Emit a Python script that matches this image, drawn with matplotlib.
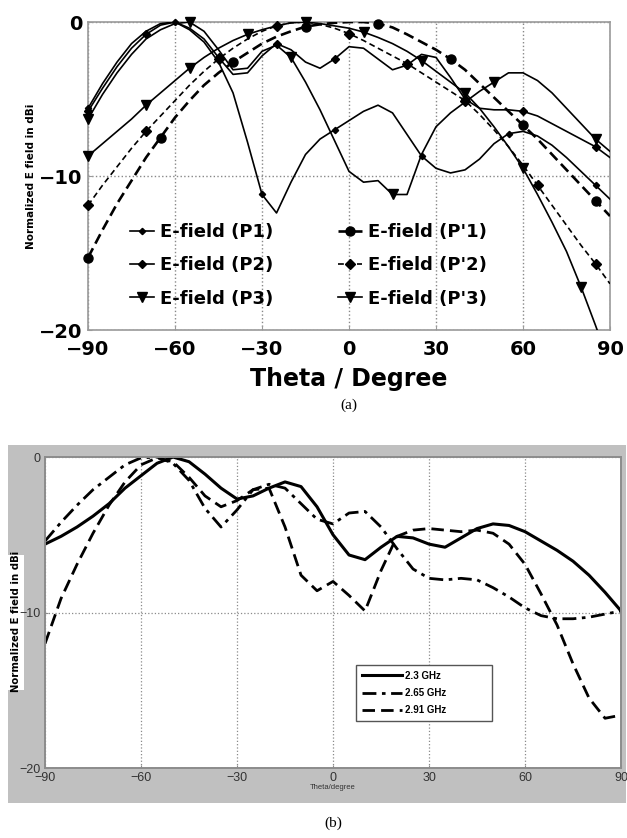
import matplotlib
matplotlib.use("Agg")
import matplotlib.pyplot as plt
from matplotlib.lines import Line2D
from matplotlib.patches import Rectangle

# ---------------- data ----------------
theta_deg = [-90, -85, -80, -75, -70, -65, -60, -55, -50, -45, -40, -35, -30,
             -25, -20, -15, -10, -5, 0, 5, 10, 15, 20, 25, 30, 35, 40, 45,
             50, 55, 60, 65, 70, 75, 80, 85, 90]

# (a) normalized E-field, dBi
p1 = [-5.6, -4.0, -2.6, -1.4, -0.6, -0.1, 0.0, -0.5, -1.3, -2.6, -4.6, -7.8, -11.2,
      -12.4, -10.4, -8.6, -7.6, -7.0, -6.4, -5.8, -5.4, -5.9, -7.3, -8.7, -9.5, -9.8,
      -9.6, -8.9, -7.9, -7.25, -7.1, -7.4, -8.0, -8.8, -9.7, -10.6, -11.5]
p2 = [-5.8, -4.3, -2.9, -1.7, -0.8, -0.2, 0.0, -0.4, -1.1, -2.3, -3.4, -3.3, -2.2,
      -1.4, -1.8, -2.6, -3.0, -2.4, -1.6, -1.7, -2.4, -3.1, -2.8, -2.1, -2.3, -3.6,
      -5.0, -5.6, -5.7, -5.7, -5.8, -6.1, -6.6, -7.1, -7.6, -8.1, -8.8]
p3 = [-6.3, -4.7, -3.3, -2.1, -1.1, -0.5, -0.1, 0.0, -0.6, -1.8, -3.1, -3.0, -1.9,
      -1.5, -2.3, -3.9, -5.7, -7.7, -9.7, -10.4, -10.3, -11.2, -11.2, -8.6, -6.8, -5.9,
      -5.2, -4.5, -3.9, -3.3, -3.3, -3.8, -4.6, -5.6, -6.6, -7.6, -8.4]
pp1 = [-15.3, -13.5, -11.8, -10.3, -8.8, -7.5, -6.2, -5.1, -4.1, -3.3, -2.6, -2.0, -1.4,
       -0.95, -0.6, -0.3, -0.15, -0.05, 0.0, 0.0, -0.1, -0.35, -0.8, -1.3, -1.8, -2.4,
       -3.1, -4.0, -4.9, -5.8, -6.7, -7.6, -8.6, -9.6, -10.6, -11.6, -12.6]
pp2 = [-11.9, -10.6, -9.4, -8.2, -7.1, -6.1, -5.1, -4.1, -3.2, -2.4, -1.7, -1.1, -0.6,
       -0.25, -0.05, 0.0, -0.15, -0.4, -0.75, -1.2, -1.7, -2.2, -2.7, -3.3, -3.9, -4.5,
       -5.1, -6.0, -7.0, -8.1, -9.3, -10.6, -11.9, -13.2, -14.5, -15.7, -17.0]
pp3 = [-8.7, -7.9, -7.1, -6.3, -5.4, -4.6, -3.8, -3.0, -2.3, -1.7, -1.2, -0.8, -0.5,
       -0.25, -0.05, 0.0, -0.1, -0.25, -0.4, -0.65, -1.0, -1.4, -1.9, -2.5, -3.2, -3.9,
       -4.6, -5.6, -6.8, -8.1, -9.5, -11.2, -13.0, -14.9, -17.2, -19.7, -22.3]
labels_a = ["E-field (P1)", "E-field (P2)", "E-field (P3)",
            "E-field (P'1)", "E-field (P'2)", "E-field (P'3)"]

# (b) normalized E-field, dBi
f_labels = ["2.3 GHz", "2.65 GHz", "2.91 GHz"]
e_230 = [-5.6, -5.1, -4.5, -3.8, -3.0, -2.0, -1.2, -0.4, 0.0, -0.3, -1.1, -2.0, -2.7,
         -2.5, -2.0, -1.6, -1.9, -3.2, -5.0, -6.3, -6.6, -5.8, -5.1, -5.2, -5.6, -5.8,
         -5.2, -4.6, -4.3, -4.4, -4.8, -5.4, -6.0, -6.7, -7.6, -8.7, -9.9]
e_265 = [-5.4, -4.2, -3.1, -2.1, -1.3, -0.5, -0.05, 0.0, -0.4, -1.5, -3.3, -4.5, -3.4,
         -2.1, -1.75, -2.0, -3.0, -4.0, -4.3, -3.6, -3.5, -4.5, -5.9, -7.2, -7.8, -7.9,
         -7.8, -7.9, -8.4, -9.0, -9.7, -10.2, -10.4, -10.4, -10.3, -10.1, -9.9]
e_291 = [-12.0, -9.1, -6.9, -4.9, -3.1, -1.6, -0.5, -0.05, -0.3, -1.3, -2.5, -3.2, -2.8,
         -2.1, -2.0, -4.5, -7.6, -8.6, -8.0, -8.9, -9.9, -7.3, -5.1, -4.7, -4.6, -4.7,
         -4.8, -4.7, -4.9, -5.6, -6.9, -8.8, -10.8, -13.3, -15.5, -16.8, -16.6]

x_ticks = [-90, -60, -30, 0, 30, 60, 90]

# ---------------- figure ----------------
fig = plt.figure(figsize=(6.27, 8.38), dpi=100)
bold = "DejaVu Sans"

# ===== (a) =====
ax1 = fig.add_axes([0.1404, 0.6062, 0.8325, 0.3675])
styles = [
    dict(data=p1, ls="-", lw=1.2, marker="D", ms=3.2, every=[0, 6, 12, 17, 23, 29, 35]),
    dict(data=p2, ls="-", lw=1.2, marker="D", ms=4.5, every=[0, 4, 9, 13, 17, 22, 26, 30, 35]),
    dict(data=p3, ls="-", lw=1.2, marker="v", ms=7.5, every=[0, 7, 14, 21, 28, 35]),
    dict(data=pp1, ls=(0, (4, 2)), lw=1.9, marker="o", ms=6.5, every=[0, 5, 10, 15, 20, 25, 30, 35]),
    dict(data=pp2, ls=(0, (3.5, 2.2)), lw=1.2, marker="D", ms=5, every=[0, 4, 9, 13, 18, 22, 26, 31, 35]),
    dict(data=pp3, ls="-", lw=1.2, marker="v", ms=7.5, every=[0, 4, 7, 11, 15, 19, 23, 26, 30, 34]),
]
handles = []
for st, lab in zip(styles, labels_a):
    ax1.plot(theta_deg, st["data"], color="black", ls=st["ls"], lw=st["lw"], zorder=3)
    ax1.plot(theta_deg, st["data"], color="black", ls="none", marker=st["marker"],
             ms=st["ms"], markevery=st["every"], clip_on=False, zorder=4)
    handles.append(Line2D([], [], color="black", ls=st["ls"], lw=st["lw"],
                          marker=st["marker"], ms=st["ms"]))

ax1.set_xlim(-90, 90)
ax1.set_ylim(-20, 0)
ax1.set_xticks(x_ticks)
ax1.set_yticks([-20, -10, 0])
ax1.grid(True, ls=":", color="#888888", lw=1.0)
for sp in ax1.spines.values():
    sp.set_color("#9a9a9a")
    sp.set_linewidth(1.2)
ax1.tick_params(axis="both", length=3, color="#9a9a9a", direction="in", labelsize=14)
ax1.tick_params(axis="x", pad=7)
ax1.tick_params(axis="y", pad=4)
for t in ax1.get_xticklabels() + ax1.get_yticklabels():
    t.set_fontweight("bold")
    t.set_family(bold)
ax1.set_xlabel("Theta / Degree", fontsize=17, fontweight="bold", family=bold)
ax1.xaxis.set_label_coords(0.5, -0.12)
ax1.set_ylabel("Normalized E field in dBi", fontsize=7.5, fontweight="bold", family=bold)
ax1.yaxis.set_label_coords(-0.10, 0.5)

leg1 = ax1.legend(handles, labels_a, loc="upper left", bbox_to_anchor=(0.05, 0.40),
                  ncol=2, frameon=False, handlelength=1.3, handletextpad=0.35,
                  columnspacing=3.6, labelspacing=0.85, numpoints=1,
                  prop=dict(family=bold, weight="bold", size=13))

fig.text(349 / 627, 1 - 405 / 838, "(a)", ha="center", va="center",
         family="Liberation Serif", fontsize=11)

# ===== (b) =====
fig.patches.append(Rectangle((8 / 627, 1 - 803 / 838), 618 / 627, 358 / 838,
                             transform=fig.transFigure, facecolor="#c0c0c0",
                             edgecolor="none", zorder=-2))
fig.patches.append(Rectangle((8 / 627, 1 - 690 / 838), 16 / 627, 135 / 838,
                             transform=fig.transFigure, facecolor="white",
                             edgecolor="none", zorder=-1))

ax2 = fig.add_axes([0.0718, 0.0835, 0.9187, 0.3711])
ax2.set_facecolor("white")
ax2.plot(theta_deg, e_230, color="black", ls="-", lw=2.2, label=f_labels[0])
ax2.plot(theta_deg, e_265, color="black", ls=(0, (5, 2, 1.3, 2)), lw=2.0, label=f_labels[1])
ax2.plot(theta_deg, e_291, color="black", ls=(0, (4.5, 2.2)), lw=2.0, label=f_labels[2])
ax2.set_xlim(-90, 90)
ax2.set_ylim(-20, 0)
ax2.set_xticks(x_ticks)
ax2.set_yticks([-20, -10, 0])
ax2.grid(True, ls=":", color="#8a8a8a", lw=0.9)
for sp in ax2.spines.values():
    sp.set_color("#8c8c8c")
    sp.set_linewidth(1.4)
ax2.tick_params(axis="both", length=2, color="#8c8c8c", direction="in",
                labelsize=9, labelcolor="#333333")
ax2.tick_params(axis="x", pad=3)
ax2.tick_params(axis="y", pad=3)
for t in ax2.get_xticklabels() + ax2.get_yticklabels():
    t.set_family("Liberation Sans")
ax2.set_xlabel("Theta/degree", fontsize=5.5, family="Liberation Sans", color="#333333")
ax2.xaxis.set_label_coords(0.5, -0.052)
ax2.set_ylabel("Normalized E field in dBi", fontsize=7.3, fontweight="bold", family=bold)
ax2.yaxis.set_label_coords(-0.042, 0.47)

leg2 = ax2.legend(loc="upper left", bbox_to_anchor=(0.531, 0.18, 0.254, 0.167),
                  mode="expand", fancybox=False, edgecolor="#555555", framealpha=1,
                  handlelength=4.2, handletextpad=0.3, labelspacing=0.75, borderpad=0.6,
                  prop=dict(family="Liberation Sans", weight="bold", size=7))
leg2.get_frame().set_linewidth(1.0)

fig.text(333 / 627, 1 - 823 / 838, "(b)", ha="center", va="center",
         family="Liberation Serif", fontsize=11)

fig.savefig("out.png", dpi=100)
